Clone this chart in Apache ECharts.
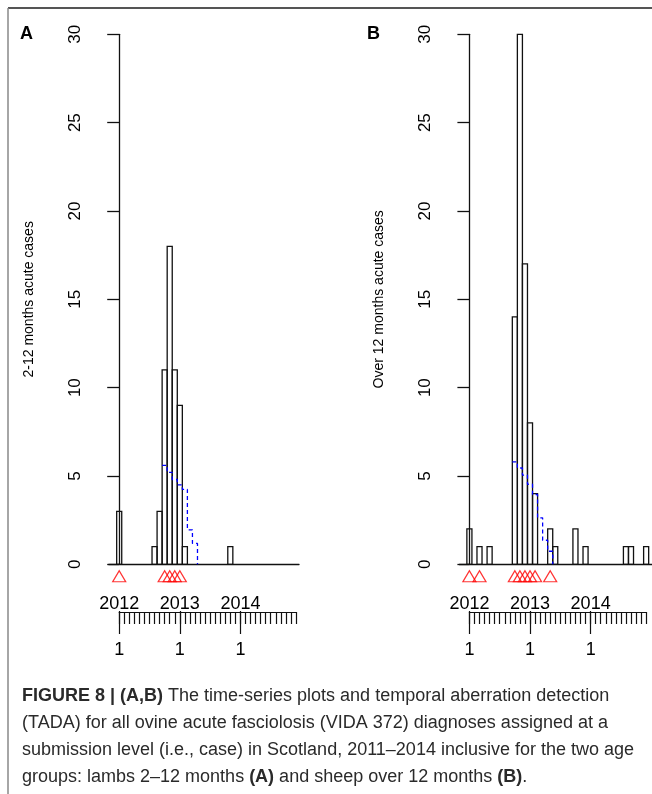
<!DOCTYPE html>
<html>
<head>
<meta charset="utf-8">
<script src="https://cdn.jsdelivr.net/npm/echarts@6/dist/echarts.min.js"></script>
<style>
html,body{margin:0;padding:0;background:#fff;}
#main{width:652px;height:794px;}
</style>
</head>
<body>
<div id="main"></div>
<script>
// months Jan 2012 .. Dec 2014
var years=[2012,2013,2014];
var months=[];
for(var y=0;y<years.length;y++){
    for(var m=1;m<=12;m++){ months.push(years[y]+'-'+m); }
}

// (A) 2-12 months acute cases per month
var casesA=[3,0,0,0,0,0,0,1,3,11,18,11,9,1,0,0,0,0,0,0,0,0,1,0,0,0,0,0,0,0,0,0,0,0,0,0];
// (B) over 12 months acute cases per month
var casesB=[2,0,1,0,1,0,0,0,0,14,30,17,8,4,0,0,2,1,0,0,0,2,0,1,0,0,0,0,0,0,0,1,1,0,0,1];

// upper bound (blue dashed), first month index + values
var boundStartA=9;
var boundA=[5.6,5.2,4.8,4.5,4.24,1.95,1.18];
var boundStartB=9;
var boundB=[5.8,5.45,5.05,4.53,3.95,2.63,1.36,0.74];

// alarms (red triangles), month index
var alarmsA=[0,9,10,11,12];
var alarmsB=[0,2,9,10,11,12,13,16];

var yMin=0, yMax=30, yStep=5;
var yNameA='2-12 months acute cases';
var yNameB='Over 12 months acute cases';

var FONT='"Liberation Sans", Arial, sans-serif';

function isJan(idx){ return idx%12===0; }

function barData(arr){
    var out=[];
    for(var i=0;i<arr.length;i++){ if(arr[i]>0) out.push([i,arr[i]]); }
    return out;
}
function boundData(start,arr){
    var out=[];
    for(var k=0;k<arr.length;k++){ out.push([start+k-0.5,arr[k]]); }
    out.push([start+arr.length-0.5,0]);
    return out;
}
function alarmData(arr){
    return arr.map(function(i){ return [i,0]; });
}
function renderBar(params,api){
    var i=api.value(0), v=api.value(1);
    var p0=api.coord([i-0.5,v]);
    var p1=api.coord([i+0.5,0]);
    return {
        type:'rect',
        shape:{x:p0[0],y:p0[1],width:p1[0]-p0[0],height:p1[1]-p0[1]},
        style:{fill:'none',stroke:'#111',lineWidth:1.3}
    };
}

var grids=[], xAxes=[], yAxes=[], series=[];

function addPanel(cfg){
    // main plot grid + ruler grid
    grids.push({left:cfg.left,top:34.3,width:cfg.width,height:530});
    grids.push({left:cfg.rulerLeft,top:611,width:176.8,height:1});
    var gi=grids.length-2, ri=grids.length-1;
    var xi=xAxes.length;
    xAxes.push({
        gridIndex:gi,type:'value',min:cfg.xmin,max:cfg.xmax,
        axisLine:{show:true,onZero:false,lineStyle:{color:'#111',width:1.3}},
        axisTick:{show:false},axisLabel:{show:false},splitLine:{show:false}
    });
    // ruler: short ticks each month
    xAxes.push({
        gridIndex:ri,type:'category',position:'top',data:months,boundaryGap:false,
        axisLine:{show:true,lineStyle:{color:'#111',width:1.2}},
        axisTick:{show:true,inside:true,length:12,interval:0,lineStyle:{color:'#111',width:1.2}},
        axisLabel:{show:false}
    });
    // ruler: long ticks + month number labels
    xAxes.push({
        gridIndex:ri,type:'category',position:'top',data:months,boundaryGap:false,
        axisLine:{show:false},
        axisTick:{show:true,inside:true,length:23,interval:isJan,lineStyle:{color:'#111',width:1.2}},
        axisLabel:{show:true,inside:true,interval:isJan,margin:30,fontSize:18,color:'#000',fontFamily:FONT,
            formatter:function(v){ return v.split('-')[1]; }}
    });
    // ruler: year labels above line
    xAxes.push({
        gridIndex:ri,type:'category',position:'top',data:months,boundaryGap:false,
        axisLine:{show:false},axisTick:{show:false},
        axisLabel:{show:true,interval:isJan,margin:-2,fontSize:18,color:'#000',fontFamily:FONT,
            formatter:function(v){ return v.split('-')[0]; }}
    });
    var yi=yAxes.length;
    yAxes.push({
        gridIndex:gi,type:'value',min:yMin,max:yMax,interval:yStep,
        name:cfg.name,nameLocation:'middle',nameGap:73,nameRotate:90,
        nameTextStyle:{fontSize:14,color:'#000',fontFamily:FONT},
        axisLine:{show:true,lineStyle:{color:'#111',width:1.3}},
        axisTick:{show:true,length:12,lineStyle:{color:'#111',width:1.3}},
        axisLabel:{rotate:90,margin:25,fontSize:17,color:'#000',fontFamily:FONT},
        splitLine:{show:false}
    });
    yAxes.push({gridIndex:ri,type:'value',show:false});

    series.push({
        type:'custom',xAxisIndex:xi,yAxisIndex:yi,
        data:barData(cfg.cases),renderItem:renderBar,encode:{x:0,y:1},
        silent:true,z:2
    });
    series.push({
        type:'line',xAxisIndex:xi,yAxisIndex:yi,step:'end',
        data:boundData(cfg.boundStart,cfg.bound),showSymbol:false,
        lineStyle:{color:'#0000ff',width:1.3,type:[4,3]},silent:true,z:3
    });
    series.push({
        type:'scatter',xAxisIndex:xi,yAxisIndex:yi,clip:false,
        data:alarmData(cfg.alarms),symbol:'triangle',symbolSize:[13,11],symbolOffset:[0,12],
        itemStyle:{color:'rgba(0,0,0,0)',borderColor:'#ff0000',borderWidth:1.2},silent:true,z:4
    });
}

addPanel({left:108.7,width:190.3,xmin:-2.08,xmax:35.6,rulerLeft:119.2,name:yNameA,
    cases:casesA,boundStart:boundStartA,bound:boundA,alarms:alarmsA});
addPanel({left:459.3,width:192.7,xmin:-2.0,xmax:36.16,rulerLeft:469.4,name:yNameB,
    cases:casesB,boundStart:boundStartB,bound:boundB,alarms:alarmsB});

var capRich={b:{fontWeight:'bold',fontSize:18,fontFamily:FONT,fill:'#2a2a2a'}};
function capLine(txt,yy){
    return {type:'text',left:22,top:yy,style:{text:txt,fontSize:18,fontFamily:FONT,fill:'#2a2a2a',rich:capRich}};
}

var mycharts=echarts.init(document.getElementById('main'));
var option={
    animation:false,
    textStyle:{fontFamily:FONT},
    grid:grids,xAxis:xAxes,yAxis:yAxes,series:series,
    graphic:[
        {type:'line',shape:{x1:8,y1:8,x2:652,y2:8},style:{stroke:'#555',lineWidth:2}},
        {type:'line',shape:{x1:8,y1:8,x2:8,y2:794},style:{stroke:'#888',lineWidth:1.5}},
        {type:'text',left:20,top:25,style:{text:'A',fontSize:18,fontWeight:'bold',fontFamily:FONT,fill:'#000'}},
        {type:'text',left:367,top:25,style:{text:'B',fontSize:18,fontWeight:'bold',fontFamily:FONT,fill:'#000'}},
        capLine('{b|FIGURE 8 | (A,B)} The time-series plots and temporal aberration detection',687),
        capLine('(TADA) for all ovine acute fasciolosis (VIDA 372) diagnoses assigned at a',714),
        capLine('submission level (i.e., case) in Scotland, 2011\u20132014 inclusive for the two age',741),
        capLine('groups: lambs 2\u201312 months {b|(A)} and sheep over 12 months {b|(B)}.',768)
    ]
};
mycharts.setOption(option);
</script>
</body>
</html>
